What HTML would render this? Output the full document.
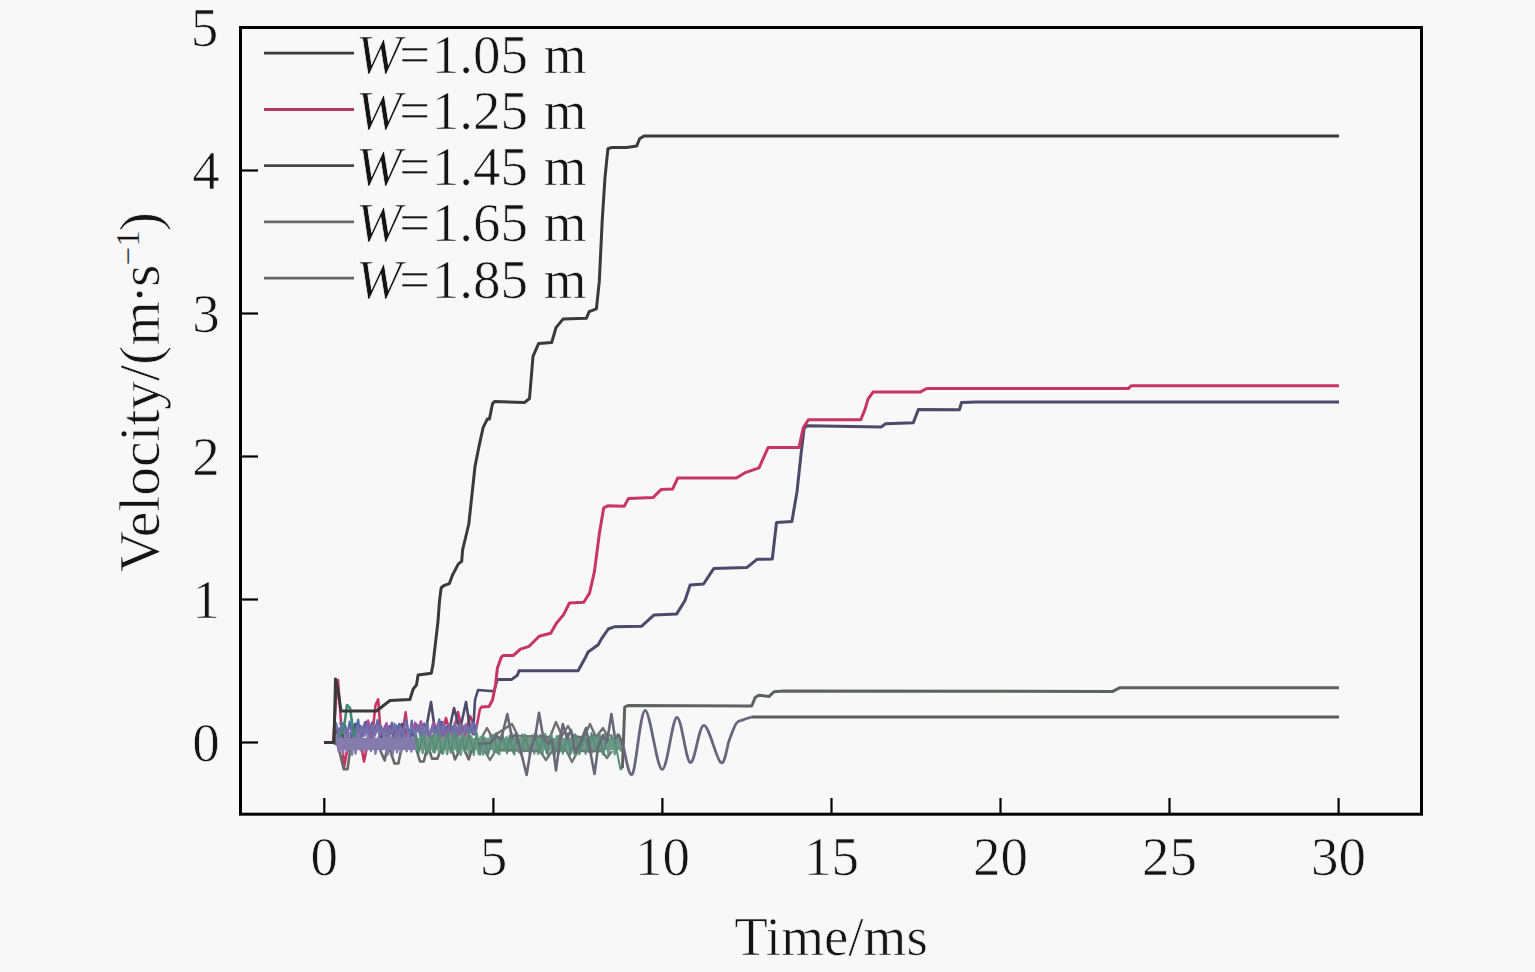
<!DOCTYPE html>
<html><head><meta charset="utf-8"><style>
html,body{margin:0;padding:0;background:#f8f8f8;overflow:hidden;}
svg{display:block;}
text{font-family:'Liberation Serif', serif;fill:#141414;stroke:#f8f8f8;stroke-width:0.7px;}
</style></head><body>
<svg width="1535" height="972" viewBox="0 0 1535 972">
<rect x="0" y="0" width="1535" height="972" fill="#f8f8f8"/>
<g id="curves">
<polyline points="324.0,742.5 333.0,742.5 336.0,700.0 338.0,680.0 341.0,722.0 344.0,768.0 348.0,745.0 352.0,740.0 356.0,746.0 360.3,740.0 364.0,761.5 368.0,742.0 372.0,738.0 375.5,705.0 378.2,699.4 381.0,738.0 386.0,744.0 392.0,738.0 398.0,744.0 402.0,738.0 405.6,712.4 409.0,742.0 416.0,738.0 424.0,744.0 432.0,736.0 440.0,742.0 446.0,718.0 452.0,740.0 458.0,712.0 464.0,738.0 470.0,716.0 476.0,730.0 480.1,708.2" fill="none" stroke="#c83464" stroke-width="2.6" stroke-linejoin="round" stroke-linecap="butt" opacity="1"/>
<polyline points="333.0,742.5 337.0,728.0 341.0,745.0 345.0,726.0 350.0,742.0 355.0,724.0 360.0,742.0 366.0,722.0 371.0,740.0 377.0,724.0 383.0,742.0 390.0,726.0 396.0,742.0 402.0,724.0 409.0,740.0 416.0,726.0 424.0,740.0 431.0,702.0 436.0,738.0 442.0,722.0 448.0,736.0 454.0,708.0 460.0,730.0 466.0,702.0 470.0,728.0 473.0,734.0 475.0,700.0 478.0,690.0 494.0,691.3 497.5,679.4" fill="none" stroke="#4a4a6c" stroke-width="2.6" stroke-linejoin="round" stroke-linecap="butt" opacity="1"/>
<polyline points="340.0,722.3 346.3,738.1 352.7,731.5 356.5,734.8 360.7,726.1 366.3,731.7 370.1,727.4 375.3,734.1 378.5,725.9 383.1,730.8 388.9,728.7 392.7,730.6 396.3,725.4 399.6,734.1 405.3,729.0 411.1,733.0 416.3,724.5 422.6,730.1 428.0,732.0 434.0,731.2 439.6,730.1 444.9,738.7 450.7,725.5 455.9,731.0 460.4,724.7 465.2,731.2 471.1,731.9 477.2,732.0" fill="none" stroke="#3a8a80" stroke-width="2.4" stroke-linejoin="round" stroke-linecap="butt" opacity="1"/>
<polyline points="350.0,727.6 354.5,735.9 357.5,726.8 363.0,735.7 368.1,720.4 372.2,738.0 376.2,726.1 381.3,734.8 386.5,723.3 389.3,735.4 394.0,727.1 396.5,737.5 399.7,724.7 404.9,737.3 407.4,729.0 412.6,732.3 415.2,722.6 418.1,730.9 420.9,721.3 424.0,732.1 427.1,729.8 430.4,733.5 433.5,722.9 438.6,730.0 441.8,723.5 444.4,738.1 448.0,725.2 452.2,736.5 455.2,725.6 458.7,736.5 464.2,725.9 466.6,730.4" fill="none" stroke="#b04a9a" stroke-width="2.4" stroke-linejoin="round" stroke-linecap="butt" opacity="1"/>
<polyline points="336.0,724.2 338.6,731.3 343.1,723.2 347.0,738.1 349.6,721.6 353.5,738.1 358.2,719.6 360.8,739.2 364.9,722.3 368.2,737.1 372.0,722.6 374.6,736.1 377.5,720.0 381.8,733.9 385.6,726.9 388.7,736.6 391.9,722.6 395.8,739.9 399.1,723.8 402.1,739.8 406.0,719.1 409.6,738.6 411.7,720.6 413.9,738.6 417.8,725.6 420.9,734.1 424.2,723.5 428.6,737.2 433.0,725.2 436.9,739.9 439.2,719.3 442.2,731.5 446.6,726.5 449.0,733.6 453.1,726.3 457.3,738.7 459.8,726.1 463.9,732.0 467.1,727.0 469.6,731.4 474.0,722.0 476.2,735.1" fill="none" stroke="#5868b0" stroke-width="2.2" stroke-linejoin="round" stroke-linecap="butt" opacity="1"/>
<polyline points="336.0,722.1 338.9,737.7 342.0,725.2 343.6,733.8 346.2,727.9 349.7,739.2 352.2,726.4 354.4,737.0 357.7,726.2 359.9,735.5 362.0,726.6 364.5,736.1 366.9,726.3 369.4,739.3 372.3,725.2 374.8,734.1 377.7,725.5 379.2,735.6 381.5,726.2 383.1,736.3 385.6,727.7 387.3,737.9 389.2,728.5 391.8,734.0 394.5,723.4 398.0,736.2 400.5,727.6 402.2,733.9 405.4,722.1 408.7,735.6 412.3,725.8 415.2,734.2 418.3,726.2 420.5,738.4 422.8,726.0 425.1,735.8 427.7,723.4 429.3,737.7 432.7,724.4 434.4,739.5 438.1,722.3 439.8,739.6 443.4,722.7 445.2,737.3 448.2,729.0 451.6,738.0 454.6,722.6 457.6,739.7 459.8,723.6 463.3,737.7 465.7,724.0 468.4,738.0 471.5,723.5 474.2,734.9 477.4,724.6" fill="none" stroke="#7a70a8" stroke-width="2.0" stroke-linejoin="round" stroke-linecap="butt" opacity="1"/>
<polyline points="333.0,742.5 338.0,745.0 343.7,769.3 347.5,769.3 351.5,740.0 358.0,736.0 363.0,748.0 370.0,740.0 378.0,745.0 384.7,760.5 388.0,744.0 394.5,763.5 398.4,763.5 402.0,745.0 410.0,742.0 416.0,748.0 420.0,761.5 423.8,761.5 427.8,745.0 432.0,758.6 437.5,758.6 442.0,745.0 450.0,742.0 455.0,759.5 462.0,745.0 468.8,759.5 474.0,742.0" fill="none" stroke="#686868" stroke-width="2.6" stroke-linejoin="round" stroke-linecap="butt" opacity="1"/>
<polyline points="333.0,742.5 340.0,735.0 344.0,728.0 347.0,705.0 350.0,708.0 352.4,725.0 355.0,740.0 360.0,744.0" fill="none" stroke="#3f8a72" stroke-width="2.6" stroke-linejoin="round" stroke-linecap="butt" opacity="1"/>
<rect x="337" y="738" width="79" height="12" fill="#847cac"/>
<rect x="416" y="738" width="206" height="12" fill="#6e9886"/>
<polyline points="336.0,734.8 338.7,751.4 341.0,737.7 342.9,753.2 345.2,734.2 347.7,751.1 349.2,733.3 352.1,754.8 353.7,737.7 355.6,753.6 358.1,733.4 360.7,750.2 362.2,736.7 365.2,751.4 367.7,735.5 371.0,751.1 373.9,735.4 375.4,753.8 378.6,736.8 381.2,750.5 384.5,735.6 387.7,754.5 390.1,735.1 392.7,754.3 395.2,735.1 397.0,752.4 399.7,735.8 401.1,752.3 404.3,735.4 406.6,751.3 408.3,734.5 411.3,751.6 413.8,737.2" fill="none" stroke="#847cac" stroke-width="2.4" stroke-linejoin="round" stroke-linecap="butt" opacity="1"/>
<polyline points="416.0,734.0 418.4,750.9 420.4,736.8 422.6,753.1 426.2,735.6 428.3,751.9 431.5,737.7 433.2,751.9 435.6,734.2 438.8,752.4 440.4,737.7 443.2,753.2 445.0,737.5 447.1,754.0 450.1,733.7 452.3,751.1 454.4,733.1 457.0,751.7 458.9,736.1 460.7,754.9 463.0,734.0 465.1,751.1 466.6,735.9 469.0,753.6 471.2,736.2 473.8,754.9 476.3,737.3 478.6,754.0 480.5,737.2 483.2,754.5 484.9,737.9 487.3,753.4 490.5,734.6 494.0,752.6 496.2,733.2 499.2,754.3 501.3,735.3 503.6,750.2 506.4,737.1 508.5,750.7 511.6,733.5 514.3,754.6 515.9,736.6 519.2,752.6 522.3,734.5 524.7,751.2 527.5,736.6 530.4,751.6 532.2,735.5 534.3,753.6 536.4,734.4 538.1,753.9 540.3,735.1 542.5,753.3 545.1,734.0 548.0,754.5 551.1,733.7 553.8,754.3 556.7,736.2 559.1,752.7 561.3,734.2 564.0,750.9 566.8,733.1 569.9,754.9 571.7,737.7 574.2,753.9 576.6,735.9 579.3,754.1 582.8,736.6 585.7,753.7 588.9,736.8 591.9,752.7 594.2,734.3 596.8,750.6 599.0,733.2 602.2,752.2 605.3,734.3 608.2,753.8 611.6,735.2 614.8,754.2 617.6,734.1 620.9,751.6" fill="none" stroke="#6e9886" stroke-width="2.4" stroke-linejoin="round" stroke-linecap="butt" opacity="1"/>
<polyline points="482.0,737.0 487.0,728.0 492.0,737.0 512.0,724.0 518.0,736.0 550.0,737.0 556.0,722.0 562.0,736.0 568.0,726.0 574.0,737.0 584.0,737.0 590.0,724.0 596.0,737.0 603.0,728.0 608.0,737.0" fill="none" stroke="#707070" stroke-width="2.4" stroke-linejoin="round" stroke-linecap="butt" opacity="1"/>
<polyline points="484.0,750.0 490.0,760.0 496.0,750.0 540.0,751.0 546.0,760.0 552.0,751.0 566.0,750.0 572.0,762.0 578.0,751.0 602.0,751.0 607.0,758.0 612.0,751.0" fill="none" stroke="#6a7a74" stroke-width="2.4" stroke-linejoin="round" stroke-linecap="butt" opacity="1"/>
<polyline points="416.0,744.0 416.0,735.2 418.6,753.0 423.1,733.4 427.0,754.5 432.3,735.0 434.7,752.7 438.5,733.3 442.1,753.8 447.6,733.2 450.6,752.7 454.8,733.4 458.6,753.2 462.0,735.3 464.9,752.3 469.1,733.2 473.2,752.0 476.8,733.2 480.3,754.8 482.9,735.3 488.3,754.0 493.7,734.5 497.2,753.0 502.6,734.9 507.0,753.5 509.5,735.6 513.3,752.8 517.6,734.6 521.1,754.8 524.8,734.6 530.0,754.6 534.8,733.7 539.7,752.6 542.1,736.0 546.8,753.6 551.0,734.1 554.7,754.7 559.1,735.4 562.8,753.7 568.1,734.1 570.7,753.9 575.2,734.2 579.8,752.5 584.3,735.0 589.1,752.3 591.5,733.1 596.7,752.3 599.3,733.6 603.2,754.8 607.7,733.6 614.5,740.0 617.0,752.0 620.5,769.4 622.4,768.3" fill="none" stroke="#558d79" stroke-width="2.0" stroke-linejoin="round" stroke-linecap="butt" opacity="1"/>
<polyline points="622.4,768.3 624.7,707.2 628.1,705.5 751.7,706.0 755.2,697.5 758.7,695.2 769.2,696.4 774.0,691.7 783.3,691.1 1112.8,691.4 1120.0,687.7 1339.0,687.7" fill="none" stroke="#5c635f" stroke-width="3" stroke-linejoin="round" stroke-linecap="butt" opacity="1"/>
<polyline points="478.0,744.0 490.0,743.0 497.0,736.0 501.0,740.0 507.3,714.0 512.0,738.0 516.0,734.0 521.0,752.0 526.6,775.0 531.0,748.0 535.0,738.0 539.0,712.8 543.0,736.0 548.0,744.0 552.0,740.0 556.0,770.5 560.0,740.0 562.8,724.0 567.0,738.0 571.0,730.0 575.0,752.0 580.0,744.0 586.0,728.0 590.0,750.0 594.5,774.0 598.0,748.0 603.0,735.0 607.0,742.0 611.4,714.0 615.0,738.0 619.0,735.0 623.6,748.0" fill="none" stroke="#686878" stroke-width="2.6" stroke-linejoin="round" stroke-linecap="butt" opacity="1"/>
<path d="M623.6,748.0 C625.1,752.3 629.0,780.1 632.6,773.9 C636.2,767.6 640.2,711.2 645.1,710.5 C650.0,709.8 656.7,768.3 662.0,769.4 C667.3,770.5 672.1,718.4 676.8,717.3 C681.5,716.2 685.8,761.3 690.3,762.6 C694.8,763.9 698.8,725.3 703.9,725.3 C709.0,725.3 716.6,760.2 720.9,762.6 C725.1,765.0 726.8,746.2 729.4,739.7 C732.0,733.2 734.0,726.6 736.4,723.3 C738.8,720.0 741.0,720.9 743.5,719.8 C746.0,718.7 750.3,717.4 751.7,716.9" fill="none" stroke="#666680" stroke-width="2.8" stroke-linejoin="round" stroke-linecap="butt"/>
<polyline points="751.7,716.9 1339.0,716.9" fill="none" stroke="#5c5c5c" stroke-width="3" stroke-linejoin="round" stroke-linecap="butt" opacity="1"/>
<polyline points="497.5,679.4 498.8,679.4 511.8,679.4 517.5,675.1 519.0,670.8 578.1,670.8 585.3,657.8 588.1,652.0 598.2,644.8 601.6,638.6 608.3,629.0 614.1,626.8 641.7,626.2 654.1,614.9 676.7,613.9 685.0,600.5 690.1,585.1 703.5,584.0 713.7,568.6 746.7,567.6 757.0,559.3 772.3,559.0 776.5,522.6 791.9,521.5 797.0,491.7 801.2,452.6 804.2,427.9 807.3,425.8 881.4,426.9 885.5,423.8 913.3,422.8 918.4,409.4 959.5,409.7 961.5,402.5 975.8,401.9 1339.0,401.9" fill="none" stroke="#4a4a6c" stroke-width="3" stroke-linejoin="round" stroke-linecap="butt" opacity="1"/>
<polyline points="480.1,708.2 482.0,707.0 489.0,706.5 492.5,700.0 495.5,685.0 497.4,668.0 501.4,657.0 503.1,655.6 513.2,655.6 520.4,649.2 529.1,646.3 539.2,636.2 550.7,633.3 556.4,623.2 563.6,614.6 569.4,603.0 583.8,602.3 589.6,593.0 594.4,571.7 599.5,532.6 603.7,507.9 607.8,505.8 624.2,506.3 628.4,498.6 653.0,497.6 661.3,489.4 672.6,489.0 677.7,478.1 736.4,478.1 744.6,472.9 759.0,467.8 768.2,447.4 799.1,447.4 803.2,427.9 808.4,419.7 860.8,419.7 865.0,409.4 868.0,399.1 873.2,391.9 920.5,391.9 926.7,388.5 1128.3,388.5 1131.5,385.7 1339.0,385.7" fill="none" stroke="#c83464" stroke-width="3" stroke-linejoin="round" stroke-linecap="butt" opacity="1"/>
<polyline points="324.0,742.5 334.0,742.5 335.5,679.0 338.0,690.0 341.0,711.0 376.5,711.0 390.0,700.5 409.9,699.5 413.2,689.0 416.5,684.9 418.1,675.0 431.3,673.3 432.9,665.1 435.4,643.7 437.9,622.3 439.5,600.9 441.2,587.7 444.4,585.3 449.4,583.6 452.7,574.6 458.4,563.9 461.7,561.4 462.6,549.9 465.0,540.0 468.8,524.0 471.9,495.3 475.0,466.5 479.1,445.9 483.2,427.3 487.3,419.1 489.4,419.1 492.5,403.7 494.5,401.6 524.4,402.6 529.5,398.5 533.0,356.4 538.7,343.4 551.7,342.5 556.0,327.6 563.2,318.9 586.3,318.3 589.2,311.7 596.4,308.8 599.3,281.4 602.2,220.9 605.0,177.7 607.9,148.8 612.2,147.4 626.7,147.4 636.7,146.0 639.6,138.7 644.0,136.0 1339.0,136.0" fill="none" stroke="#3a3a3a" stroke-width="3" stroke-linejoin="round" stroke-linecap="butt" opacity="1"/>
</g>
<g id="frame" stroke="#000" fill="none">
<rect x="240.5" y="27.5" width="1181" height="786.7" stroke-width="3"/>
</g>
<g id="ticks" stroke="#000" stroke-width="2.2">
<line x1="240" y1="742.5" x2="258" y2="742.5"/>
<line x1="240" y1="599.5" x2="258" y2="599.5"/>
<line x1="240" y1="456.5" x2="258" y2="456.5"/>
<line x1="240" y1="313.5" x2="258" y2="313.5"/>
<line x1="240" y1="170.5" x2="258" y2="170.5"/>
<line x1="324.3" y1="813.5" x2="324.3" y2="798"/>
<line x1="493.4" y1="813.5" x2="493.4" y2="798"/>
<line x1="662.4" y1="813.5" x2="662.4" y2="798"/>
<line x1="831.5" y1="813.5" x2="831.5" y2="798"/>
<line x1="1000.5" y1="813.5" x2="1000.5" y2="798"/>
<line x1="1169.5" y1="813.5" x2="1169.5" y2="798"/>
<line x1="1338.6" y1="813.5" x2="1338.6" y2="798"/>
</g>
<g id="labels" font-size="55">
<text x="206" y="760.5" text-anchor="middle">0</text>
<text x="206" y="617.5" text-anchor="middle">1</text>
<text x="206" y="474.5" text-anchor="middle">2</text>
<text x="206" y="331.5" text-anchor="middle">3</text>
<text x="206" y="188.5" text-anchor="middle">4</text>
<text x="204.5" y="45.5" text-anchor="middle">5</text>
<text x="324.3" y="875" text-anchor="middle">0</text>
<text x="493.4" y="875" text-anchor="middle">5</text>
<text x="662.4" y="875" text-anchor="middle">10</text>
<text x="831.5" y="875" text-anchor="middle">15</text>
<text x="1000.5" y="875" text-anchor="middle">20</text>
<text x="1169.5" y="875" text-anchor="middle">25</text>
<text x="1338.6" y="875" text-anchor="middle">30</text>
<text x="831" y="955" text-anchor="middle">Time/ms</text>
<text transform="translate(159,572.5) rotate(-90)" x="0" y="0" font-size="57.5">Velocity/(m<tspan dx="-3">·</tspan><tspan dx="-2">s</tspan><tspan dx="-1" dy="-20.5" font-size="33" stroke-width="0.25">−1</tspan><tspan dx="-1" dy="20.5">)</tspan></text>
<line x1="264" y1="53.2" x2="354" y2="53.2" stroke="#3c3c3c" stroke-width="2.8"/>
<text x="356" y="72.5"><tspan font-style="italic">W</tspan><tspan dx="-2.5">=</tspan><tspan dx="1.5">1.05</tspan><tspan dx="2"> m</tspan></text>
<line x1="264" y1="109.5" x2="354" y2="109.5" stroke="#b83a62" stroke-width="2.8"/>
<text x="356" y="128.8"><tspan font-style="italic">W</tspan><tspan dx="-2.5">=</tspan><tspan dx="1.5">1.25</tspan><tspan dx="2"> m</tspan></text>
<line x1="264" y1="165.7" x2="354" y2="165.7" stroke="#474747" stroke-width="2.8"/>
<text x="356" y="185.0"><tspan font-style="italic">W</tspan><tspan dx="-2.5">=</tspan><tspan dx="1.5">1.45</tspan><tspan dx="2"> m</tspan></text>
<line x1="264" y1="221.9" x2="354" y2="221.9" stroke="#686868" stroke-width="2.8"/>
<text x="356" y="241.2"><tspan font-style="italic">W</tspan><tspan dx="-2.5">=</tspan><tspan dx="1.5">1.65</tspan><tspan dx="2"> m</tspan></text>
<line x1="264" y1="278.2" x2="354" y2="278.2" stroke="#666666" stroke-width="2.8"/>
<text x="356" y="297.5"><tspan font-style="italic">W</tspan><tspan dx="-2.5">=</tspan><tspan dx="1.5">1.85</tspan><tspan dx="2"> m</tspan></text>
</g>
</svg>
</body></html>
